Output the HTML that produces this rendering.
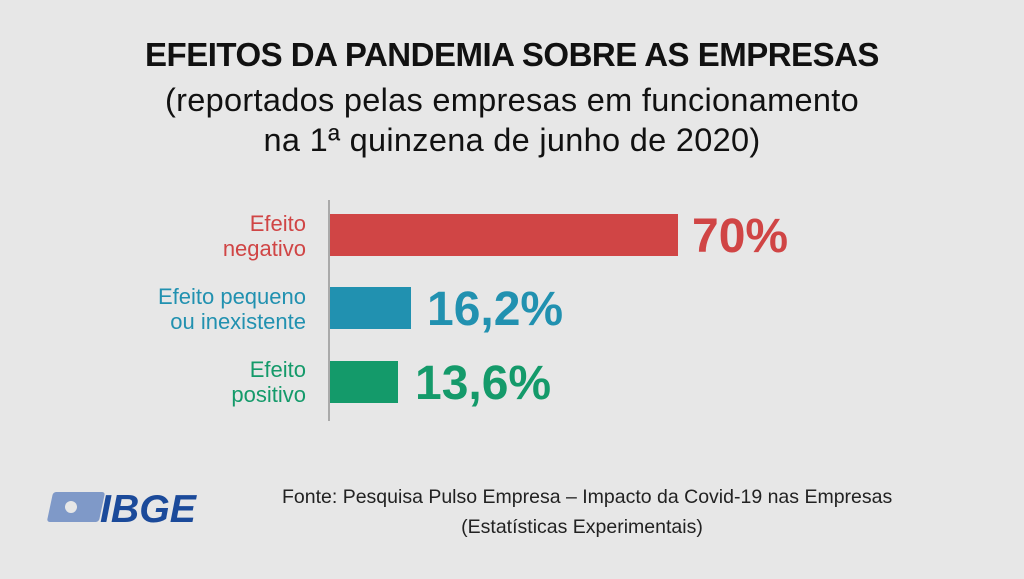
<!DOCTYPE html>
<html><head><style>
body{margin:0;width:1024px;height:579px;background:#e7e7e7;font-family:"Liberation Sans",sans-serif;position:relative;overflow:hidden}
.a{position:absolute;white-space:nowrap}
.t{left:0;width:1024px;text-align:center}
.l{right:718px;text-align:right;font-size:22px;line-height:25px}
.p{font-weight:bold;font-size:48px;line-height:48px}
</style></head><body>
<div class="a t" style="top:36px;font-size:33px;font-weight:bold;color:#111;letter-spacing:-0.5px">EFEITOS DA PANDEMIA SOBRE AS EMPRESAS</div>
<div class="a t" style="top:80px;font-size:32.5px;line-height:40px;color:#111;letter-spacing:0.3px">(reportados pelas empresas em funcionamento<br>na 1ª quinzena de junho de 2020)</div>
<div class="a" style="left:328px;top:200px;width:2px;height:221px;background:#aaa"></div>
<div class="a" style="left:330px;top:214px;width:348px;height:42px;background:#d04545"></div>
<div class="a" style="left:330px;top:287px;width:81px;height:42px;background:#2191b0"></div>
<div class="a" style="left:330px;top:361px;width:68px;height:42px;background:#149a6a"></div>
<div class="a l" style="top:211px;color:#d04545">Efeito<br>negativo</div>
<div class="a l" style="top:284px;color:#2191b0">Efeito pequeno<br>ou inexistente</div>
<div class="a l" style="top:357px;color:#149a6a">Efeito<br>positivo</div>
<div class="a p" style="left:692px;top:213px;color:#d04545">70%</div>
<div class="a p" style="left:427px;top:286px;color:#2191b0">16,2%</div>
<div class="a p" style="left:415px;top:360px;color:#149a6a">13,6%</div>
<svg class="a" style="left:40px;top:488px" width="170" height="40">
<rect x="8" y="4" width="52" height="30" rx="3" fill="#7f99c8" transform="skewX(-12) translate(6,0)"/>
<circle cx="31" cy="19" r="6" fill="#e7e7e7"/>
<text x="60" y="34" font-family="Liberation Sans" font-weight="bold" font-style="italic" font-size="39" fill="#1b4a9a" textLength="96" lengthAdjust="spacingAndGlyphs">IBGE</text>
</svg>
<div class="a" style="left:282px;width:600px;text-align:center;top:482px;font-size:19.5px;line-height:30px;color:#222">Fonte: Pesquisa Pulso Empresa – Impacto da Covid-19 nas Empresas<br>(Estatísticas Experimentais)</div>
</body></html>
